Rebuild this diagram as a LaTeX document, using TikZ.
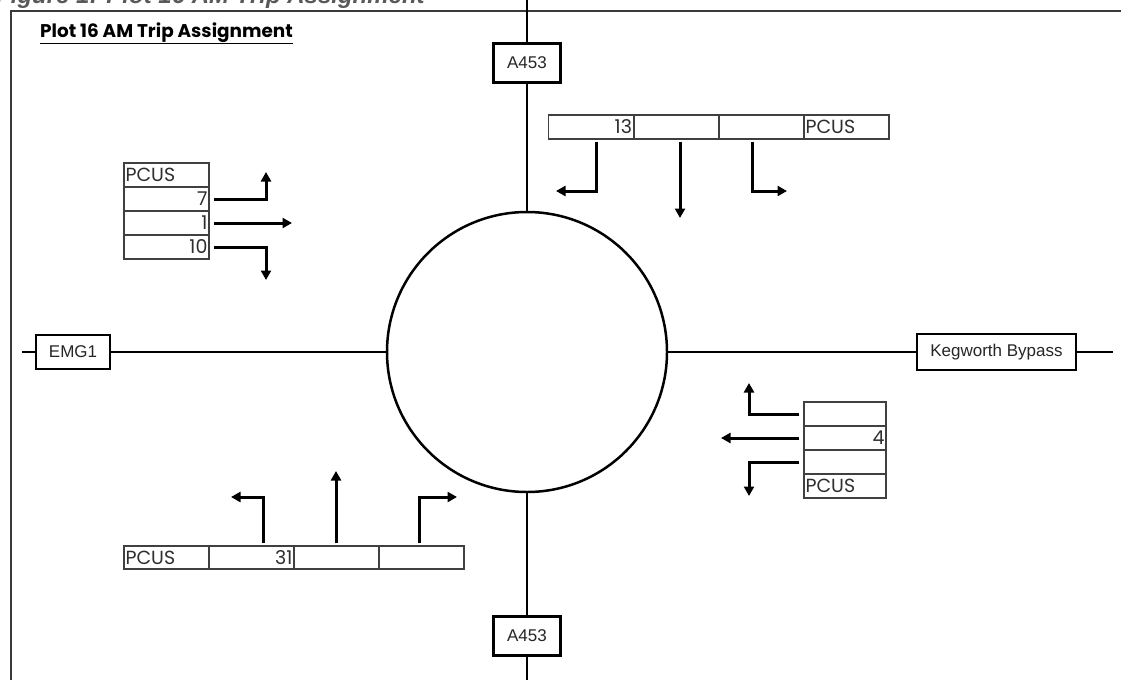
\documentclass[tikz,border=0pt]{standalone}
\usepackage{fontspec}
\setmainfont{Liberation Sans}
\newfontfamily\gothic{Poppins}
\usetikzlibrary{arrows.meta}
\definecolor{txtgray}{HTML}{2E2E2E}
\definecolor{framegray}{HTML}{3A3A3A}
\definecolor{capgray}{HTML}{595959}
\definecolor{cellline}{HTML}{404040}
\tikzset{
  road/.style={line width=2.3pt, black},
  roadbox/.style={draw, line width=2.6pt, fill=white, inner sep=0pt, font=\fontsize{17}{17}\selectfont, text=black!85},
  ring/.style={draw, circle, line width=2.5pt, minimum size=280pt, inner sep=0pt},
  cell/.style={draw=cellline, line width=1.3pt, minimum height=24pt, minimum width=85pt, inner sep=0pt},
  celltxt/.style={font=\gothic\fontsize{19}{19}\selectfont, text=txtgray, inner sep=2pt},
  arr/.style={line width=3pt, -{Triangle[length=9.5pt,width=10pt]}},
  frameline/.style={line width=2.3pt, framegray}
}
\begin{document}
\begin{tikzpicture}[x=1pt,y=-1pt]
\useasboundingbox (0,0) rectangle (1121,680);
\clip (0,0) rectangle (1121,680);

% caption (cut off at top)
\node[anchor=base west, inner sep=0pt, text=capgray, font=\bfseries\itshape\fontsize{24}{24}\selectfont] (cap) at (-4,3) {Figure 1: Plot 16 AM Trip Assignment};

% frame
\draw[frameline] (11,680) -- (11,11) -- (1121,11);

% title
\node[anchor=base west, inner sep=0pt, font=\gothic\bfseries\fontsize{18.4}{18.4}\selectfont] (title) at (40,37) {\underline{Plot 16 AM Trip Assignment}};

% roundabout and roads
\node[ring] (circ) at (527,352) {};
\node[roadbox, minimum width=67pt, minimum height=39pt] (atop) at (527,63) {A453};
\node[roadbox, minimum width=67pt, minimum height=39pt] (abot) at (527,636) {A453};
\node[roadbox, minimum width=74pt, minimum height=34pt] (emg) at (73,352) {EMG1};
\node[roadbox, minimum width=159pt, minimum height=36pt] (keg) at (996.5,352) {Kegworth Bypass};
\coordinate (topend) at (527,0);
\coordinate (botend) at (527,680);
\coordinate (leftend) at (22,352);
\coordinate (rightend) at (1113,352);
\draw[road] (topend) -- (atop);
\draw[road] (atop) -- (circ);
\draw[road] (circ) -- (abot);
\draw[road] (abot) -- (botend);
\draw[road] (leftend) -- (emg);
\draw[road] (emg) -- (circ);
\draw[road] (circ) -- (keg);
\draw[road] (keg) -- (rightend);

% left table
\node[cell] (L1) at (166.5,175) {};
\node[cell] (L2) at (166.5,199) {};
\node[cell] (L3) at (166.5,223) {};
\node[cell] (L4) at (166.5,247) {};
\node[celltxt, anchor=west] at (L1.west) {PCUS};
\node[celltxt, anchor=east] at (L2.east) {7};
\node[celltxt, anchor=east] at (L3.east) {1};
\node[celltxt, anchor=east] at (L4.east) {10};
\coordinate (lt1) at (266,172);
\coordinate (lt2) at (292,223);
\coordinate (lt3) at (266,280);
\draw[arr] ([xshift=4pt]L2.east) -| (lt1);
\draw[arr] ([xshift=4pt]L3.east) -- (lt2);
\draw[arr] ([xshift=4pt]L4.east) -| (lt3);

% top table
\node[cell] (T1) at (591,127) {};
\node[cell] (T2) at (676.5,127) {};
\node[cell] (T3) at (761.5,127) {};
\node[cell] (T4) at (846.5,127) {};
\node[celltxt, anchor=east] at (T1.east) {13};
\node[celltxt, anchor=west] at (T4.west) {PCUS};
\coordinate (tt1) at (556,191);
\coordinate (tt2) at (680,218);
\coordinate (tt3) at (787,191);
\draw[arr] ([xshift=5pt,yshift=-2pt]T1.south) |- (tt1);
\draw[arr] ([xshift=3.5pt,yshift=-2pt]T2.south) -- (tt2);
\draw[arr] ([xshift=-9.5pt,yshift=-2pt]T3.south) |- (tt3);

% right table
\node[cell, minimum width=82pt] (R1) at (845,414) {};
\node[cell, minimum width=82pt] (R2) at (845,438) {};
\node[cell, minimum width=82pt] (R3) at (845,462) {};
\node[cell, minimum width=82pt] (R4) at (845,486) {};
\node[celltxt, anchor=east] at (R2.east) {4};
\node[celltxt, anchor=west] at (R4.west) {PCUS};
\coordinate (rt1) at (749,383);
\coordinate (rt2) at (721,438);
\coordinate (rt3) at (749,496);
\draw[arr] ([xshift=-4pt]R1.west) -| (rt1);
\draw[arr] ([xshift=-4pt]R2.west) -- (rt2);
\draw[arr] ([xshift=-4pt]R3.west) -| (rt3);

% bottom table
\node[cell, minimum height=23pt] (B1) at (166.5,557.5) {};
\node[cell, minimum height=23pt] (B2) at (251.5,557.5) {};
\node[cell, minimum height=23pt] (B3) at (336.5,557.5) {};
\node[cell, minimum height=23pt] (B4) at (421.5,557.5) {};
\node[celltxt, anchor=west] at (B1.west) {PCUS};
\node[celltxt, anchor=east] at (B2.east) {31};
\coordinate (bt1) at (231,497);
\coordinate (bt2) at (336,471);
\coordinate (bt3) at (457,497);
\draw[arr] ([xshift=11.5pt,yshift=2pt]B2.north) |- (bt1);
\draw[arr] ([xshift=-0.5pt,yshift=2pt]B3.north) -- (bt2);
\draw[arr] ([xshift=-2.5pt,yshift=2pt]B4.north) |- (bt3);
\end{tikzpicture}
\end{document}
